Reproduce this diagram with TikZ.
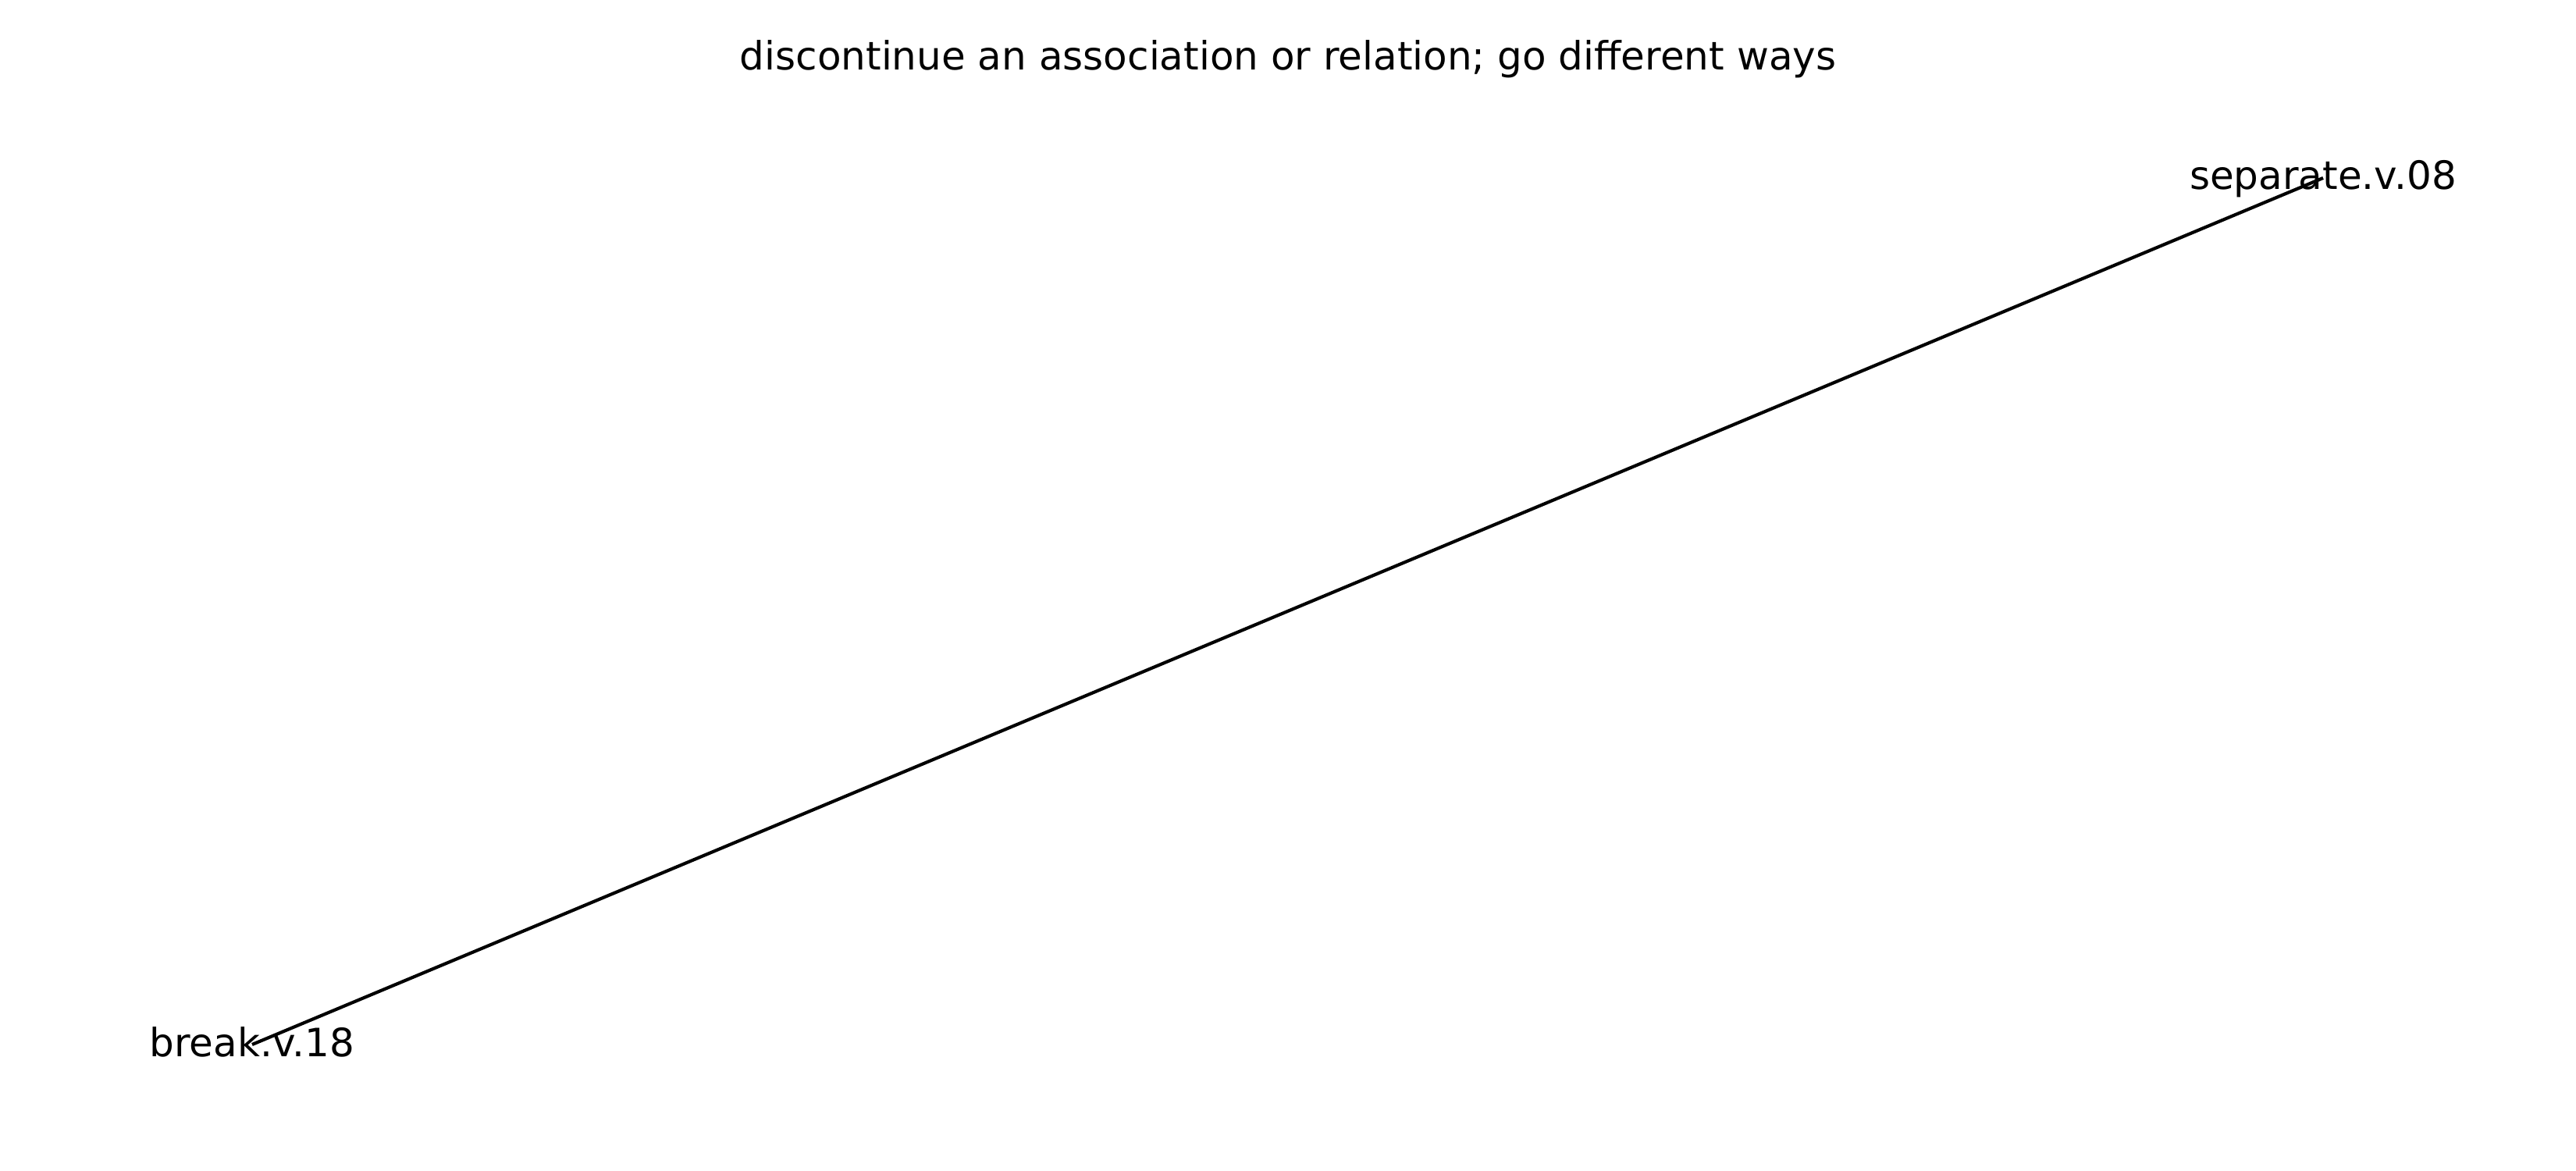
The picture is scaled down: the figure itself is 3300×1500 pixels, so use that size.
\documentclass[tikz,border=0pt]{standalone}
\usepackage{fontspec}
\setmainfont{DejaVu Sans}
\tikzset{
  synset/.style={inner sep=0pt, text height=0.76em, text depth=0.04em, font=\fontsize{12pt}{14pt}\selectfont},
  gloss/.style={inner sep=0pt, anchor=base, font=\fontsize{12pt}{14pt}\selectfont},
  link/.style={line width=1pt, black}
}
\begin{document}
\begin{tikzpicture}[x=0.24pt,y=0.24pt,yscale=-1,xscale=1]
\useasboundingbox (0,0) rectangle (3300,1500);

% Text Node
\node[gloss] (title) at (1650,90) {discontinue an association or relation; go different ways};
% Text Node
\node[synset] (sep) at (2976,228) {separate.v.08};
% Text Node
\node[synset] (brk) at (323,1338) {break.v.18};

%Straight Lines
\draw[link] (brk.center) -- (sep.center) ;

\end{tikzpicture}
\end{document}
